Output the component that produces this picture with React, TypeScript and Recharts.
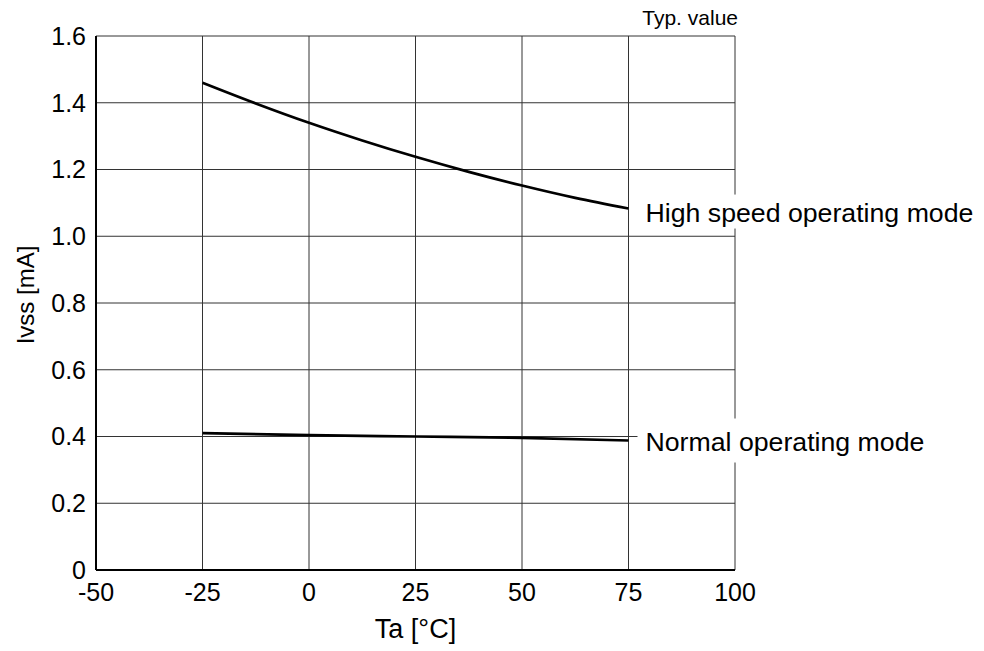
import React from 'react';
import { LineChart, Line, XAxis, YAxis, CartesianGrid, Label, LabelList, Customized } from 'recharts';

const highTemps = [-25, -12.5, 0, 12.5, 25, 37.5, 50, 62.5, 75];
const highSpeed = [1.46, 1.398, 1.34, 1.287, 1.238, 1.193, 1.152, 1.115, 1.083];
const normalTemps = [-25, 0, 25, 50, 75];
const normalMode = [0.41, 0.404, 0.4, 0.396, 0.388];
const xTicks = [-50, -25, 0, 25, 50, 75, 100];
const yTicks = [0, 0.2, 0.4, 0.6, 0.8, 1.0, 1.2, 1.4, 1.6];
const highLabel = 'High speed operating mode';
const normalLabel = 'Normal operating mode';
const xTitle = 'Ta [°C]';
const yTitle = 'Ivss [mA]';
const noteText = 'Typ. value';

const highData = highTemps.map((t, i) => ({ t, v: highSpeed[i] }));
const normalData = normalTemps.map((t, i) => ({ t, v: normalMode[i] }));

const FONT = 'Liberation Sans, Arial, Helvetica, sans-serif';

const makeEndLabel = (text: string, count: number, boxTop: number, boxH: number, dyBase: number) =>
  (props: any) => {
    const { x, y, index } = props;
    if (index !== count - 1) return null;
    return (
      <g>
        <rect x={x + 9} y={y + boxTop} width={350} height={boxH} fill="#ffffff" />
        <text x={x + 17} y={y + dyBase} fontSize={26.7} fontFamily={FONT} fill="#000">
          {text}
        </text>
      </g>
    );
  };

const fmtY = (v: number) => (v === 0 ? '0' : v.toFixed(1));

export default function App() {
  return (
    <div style={{ position: 'absolute', left: 0, top: 0, width: 984, height: 651, background: '#fff' }}>
      <LineChart
        width={984}
        height={651}
        margin={{ top: 36, right: 249, bottom: 51, left: 26 }}
        style={{ fontFamily: FONT }}
      >
        <CartesianGrid stroke="#333" strokeWidth={1} fill="none" />
        <XAxis
          dataKey="t"
          type="number"
          domain={[-50, 100]}
          ticks={xTicks}
          allowDuplicatedCategory={false}
          tickLine={false}
          tickSize={0}
          tickMargin={13}
          height={30}
          axisLine={{ stroke: '#000', strokeWidth: 2 }}
          tick={{ fill: '#000', fontSize: 25, fontFamily: FONT }}
          interval={0}
        >
          <Label
            value={xTitle}
            position="bottom"
            offset={19}
            style={{ fill: '#000', fontSize: 27, fontFamily: FONT }}
          />
        </XAxis>
        <YAxis
          type="number"
          domain={[0, 1.6]}
          ticks={yTicks}
          width={70}
          tickLine={false}
          tickSize={0}
          tickMargin={10}
          tickFormatter={fmtY}
          axisLine={{ stroke: '#000', strokeWidth: 2 }}
          tick={{ fill: '#000', fontSize: 25, fontFamily: FONT }}
          interval={0}
        >
          <Label
            content={(p: any) => {
              const vb = p.viewBox || {};
              const cx = 25;
              const cy = vb.y + vb.height / 2 - 8;
              return (
                <text
                  x={cx}
                  y={cy}
                  transform={`rotate(-90 ${cx} ${cy})`}
                  textAnchor="middle"
                  dominantBaseline="central"
                  fontSize={24}
                  fontFamily={FONT}
                  fill="#000"
                >
                  {yTitle}
                </text>
              );
            }}
          />
        </YAxis>
        <Line
          data={highData}
          dataKey="v"
          type="monotone"
          stroke="#000"
          strokeWidth={2.7}
          dot={false}
          activeDot={false}
          isAnimationActive={false}
        >
          <LabelList dataKey="v" content={makeEndLabel(highLabel, highData.length, -14, 34, 13)} />
        </Line>
        <Line
          data={normalData}
          dataKey="v"
          type="monotone"
          stroke="#000"
          strokeWidth={2.7}
          dot={false}
          activeDot={false}
          isAnimationActive={false}
        >
          <LabelList dataKey="v" content={makeEndLabel(normalLabel, normalData.length, -22, 44, 10)} />
        </Line>
        <Customized
          component={() => (
            <text x={738} y={25} textAnchor="end" fontSize={21} fontFamily={FONT} fill="#000">
              {noteText}
            </text>
          )}
        />
      </LineChart>
    </div>
  );
}
